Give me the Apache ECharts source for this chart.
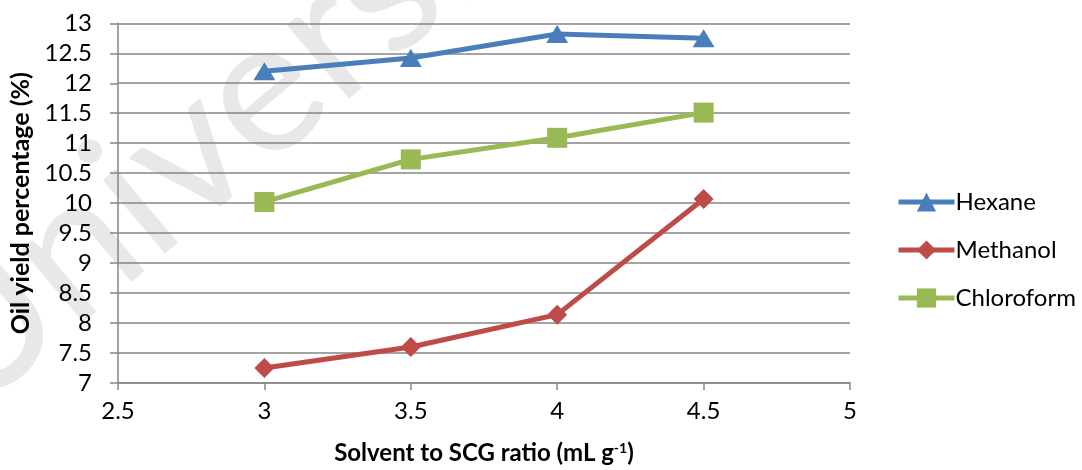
<!DOCTYPE html>
<html>
<head>
<meta charset="utf-8">
<script src="https://cdn.jsdelivr.net/npm/echarts@6/dist/echarts.min.js"></script>
<style>
html,body{margin:0;padding:0;background:#fff;}
#c{width:1082px;height:470px;}
</style>
</head>
<body>
<div id="c"></div>
<script>
const xValues = [3, 3.5, 4, 4.5];
const hexane = [12.2, 12.42, 12.82, 12.75];
const methanol = [7.25, 7.6, 8.14, 10.07];
const chloroform = [10.02, 10.73, 11.09, 11.51];
const seriesNames = ['Hexane', 'Methanol', 'Chloroform'];
const colors = ['#4A7EBB', '#BE4B48', '#98B954'];

const FONT = 'Lato, "Open Sans", sans-serif';
function pairs(arr){ return xValues.map((x,i)=>[x, arr[i]]); }

const chart = echarts.init(document.getElementById('c'));
chart.setOption({
  animation: false,
  backgroundColor: '#fff',
  graphic: [{
    type: 'text', z: -10, x: -10, y: 445, rotation: 0.70,
    style: { text: 'University', fill: '#e8e8e8', font: '190px ' + FONT, textVerticalAlign: 'bottom' }
  }],
  grid: { left: 118, right: 232, top: 23.3, bottom: 86.7 },
  legend: {
    orient: 'vertical', left: 896, top: 190, padding: 0,
    itemWidth: 56, itemHeight: 24, itemGap: 24,
    lineStyle: { width: 5 },
    textStyle: { fontFamily: FONT, fontSize: 24, color: '#000', padding: [0,0,0,-4] },
    data: seriesNames
  },
  xAxis: {
    type: 'value', min: 2.5, max: 5, interval: 0.5,
    name: 'Solvent to SCG ratio (mL g{sup|-1})', nameLocation: 'middle', nameGap: 58,
    nameTextStyle: { fontFamily: FONT, fontSize: 24, fontWeight: 'bold', color: '#000',
      rich: { sup: { fontFamily: FONT, fontSize: 14, fontWeight: 'bold', verticalAlign: 'top', color: '#000', padding: [0,0,10,0] } } },
    axisLine: { lineStyle: { color: '#868686', width: 1.5 } },
    axisTick: { show: true, length: 7, lineStyle: { color: '#868686', width: 1.5 } },
    axisLabel: { fontFamily: FONT, fontSize: 24, color: '#000', margin: 16 },
    splitLine: { show: false }
  },
  yAxis: {
    type: 'value', min: 7, max: 13, interval: 0.5,
    name: 'Oil yield percentage (%)', nameLocation: 'middle', nameGap: 82, nameRotate: 90,
    nameTextStyle: { fontFamily: FONT, fontSize: 25, fontWeight: 'bold', color: '#000' },
    axisLine: { show: true, lineStyle: { color: '#868686', width: 1.5 } },
    axisTick: { show: true, length: 8, lineStyle: { color: '#868686', width: 1.5 } },
    axisLabel: { fontFamily: FONT, fontSize: 24, color: '#000', margin: 26 },
    splitLine: { show: true, lineStyle: { color: '#868686', width: 1.5 } }
  },
  series: [
    { name: seriesNames[0], type: 'line', data: pairs(hexane), symbol: 'triangle', symbolSize: [22, 18],
      lineStyle: { width: 5, color: colors[0] }, itemStyle: { color: colors[0] } },
    { name: seriesNames[1], type: 'line', data: pairs(methanol), symbol: 'diamond', symbolSize: [20, 20],
      lineStyle: { width: 5, color: colors[1] }, itemStyle: { color: colors[1] } },
    { name: seriesNames[2], type: 'line', data: pairs(chloroform), symbol: 'rect', symbolSize: [20, 20],
      lineStyle: { width: 5, color: colors[2] }, itemStyle: { color: colors[2] } }
  ]
});
</script>
</body>
</html>
